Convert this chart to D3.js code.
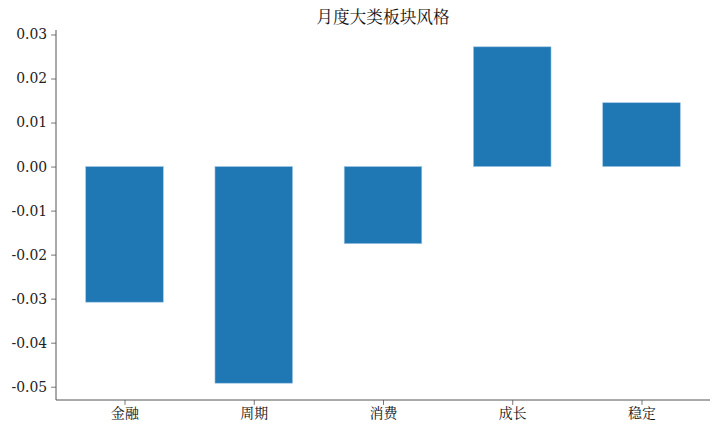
<!DOCTYPE html>
<html><head><meta charset="utf-8">
<script src="https://cdn.jsdelivr.net/npm/d3@7"></script>
<style>body{margin:0;background:#fff}svg{display:block}</style>
</head><body><svg id="c" width="720" height="432"></svg>
<script>
const categories = ["金融","周期","消费","成长","稳定"];
const values = [-0.0308, -0.0492, -0.0175, 0.0272, 0.0145];
const yTicks = [0.03,0.02,0.01,0.00,-0.01,-0.02,-0.03,-0.04,-0.05];
const title = "月度大类板块风格";

const svg = d3.select("#c");
const L=56, R=710, T=30, B=400;
const ymin=d3.min(values.concat([0])), ymax=d3.max(values.concat([0]));
const pad=(ymax-ymin)*0.05;
const y=d3.scaleLinear().domain([ymin-pad, ymax+pad]).range([B,T]);
const x=d3.scaleLinear().domain([-0.53, categories.length-1+0.53]).range([L,R]);
const bw = x(0.6)-x(0);
const numFont = "'DejaVu Serif', serif";
const cjkFont = "'Noto Serif CJK SC','Noto Sans CJK SC', serif";

svg.append("g").selectAll("rect").data(values).join("rect")
  .attr("x",(d,i)=>x(i)-bw/2).attr("width",bw)
  .attr("y",d=>y(Math.max(0,d))).attr("height",d=>Math.abs(y(d)-y(0)))
  .attr("fill","#1f77b4").attr("stroke","#9cc3e3").attr("stroke-width",0.6);

const ya = svg.append("g").attr("transform",`translate(${L},0)`)
  .call(d3.axisLeft(y).tickValues(yTicks).tickFormat(d3.format(".2f")).tickSize(4.9).tickPadding(4));
ya.select(".domain").remove();
ya.selectAll("line").attr("stroke","#555").attr("stroke-width",0.8);
ya.selectAll("text").attr("font-family",numFont).attr("font-size","13.9px").attr("fill","#222")
  .text(d=>d3.format(".2f")(d).replace("−","-"));

const xa = svg.append("g").attr("transform",`translate(0,${B})`)
  .call(d3.axisBottom(x).tickValues(d3.range(categories.length)).tickFormat(i=>categories[i]).tickSize(4.9).tickPadding(3));
xa.select(".domain").remove();
xa.selectAll("line").attr("stroke","#555").attr("stroke-width",0.8);
xa.selectAll("text").attr("font-family",cjkFont).attr("font-size","13.9px").attr("fill","#111");

svg.append("line").attr("x1",L).attr("x2",L).attr("y1",T).attr("y2",B).attr("stroke","#555").attr("stroke-width",1);
svg.append("line").attr("x1",L).attr("x2",R).attr("y1",B).attr("y2",B).attr("stroke","#555").attr("stroke-width",1);

svg.append("text").attr("x",(L+R)/2).attr("y",23).attr("text-anchor","middle")
  .attr("font-family",cjkFont).attr("font-size","16.7px").attr("fill","#111").text(title);
</script></body></html>
